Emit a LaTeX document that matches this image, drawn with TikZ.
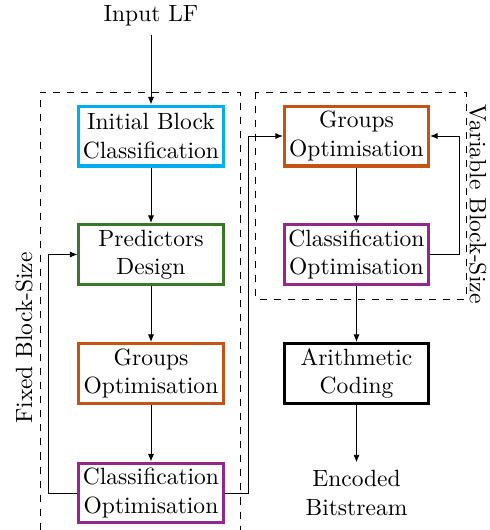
\documentclass[tikz,border=0pt]{standalone}
\usetikzlibrary{arrows.meta}
\definecolor{boxcyan}{RGB}{0,174,239}
\definecolor{boxgreen}{RGB}{56,120,40}
\definecolor{boxorange}{RGB}{197,84,20}
\definecolor{boxpurple}{RGB}{146,40,142}
\begin{document}
\begin{tikzpicture}[x=0.4255pt,y=-0.4255pt,
  stage/.style={draw,line width=1.3pt,minimum width=61.3pt,minimum height=25.5pt,
    inner sep=1pt,align=center,fill=white},
  flow/.style={-{Latex[length=3.2pt,width=2.6pt]},line width=0.4pt},
  region/.style={dashed,line width=0.4pt}]
\useasboundingbox (0,0) rectangle (489,530);

% dashed regions
\draw[region] (40,530) -- (40,92) -- (240,92) -- (240,530);
\draw[region] (255,92) rectangle (466,299);
\node[rotate=90] (fixed) at (24,338) {Fixed Block-Size};
\node[rotate=-90] (var) at (478,204) {Variable Block-Size};

% fixed block-size stages
\node (in) at (151,16) {Input LF};
\node[stage,draw=boxcyan] (ibc) at (151,136) {Initial Block\\Classification};
\node[stage,draw=boxgreen] (pd) at (151,254.5) {Predictors\\Design};
\node[stage,draw=boxorange] (go1) at (151,373.5) {Groups\\Optimisation};
\node[stage,draw=boxpurple] (co1) at (151,493) {Classification\\Optimisation};

% variable block-size stages
\node[stage,draw=boxorange] (go2) at (356.5,136) {Groups\\Optimisation};
\node[stage,draw=boxpurple] (co2) at (356.5,254.5) {Classification\\Optimisation};
\node[stage,draw=black] (ac) at (356.5,373.5) {Arithmetic\\Coding};
\node[align=center] (out) at (356.5,493) {Encoded\\Bitstream};

% connectors
\draw[flow] (in) -- (ibc);
\draw[flow] (ibc) -- (pd);
\draw[flow] (pd) -- (go1);
\draw[flow] (go1) -- (co1);
\draw[flow] (co1.west) -- (48,493) |- (pd.west);
\draw[flow] (co1.east) -- (248,493) |- (go2.west);
\draw[flow] (go2) -- (co2);
\draw[flow] (co2.east) -- (459,254.5) |- (go2.east);
\draw[flow] (co2) -- (ac);
\draw[flow] (ac) -- (out);
\end{tikzpicture}
\end{document}
